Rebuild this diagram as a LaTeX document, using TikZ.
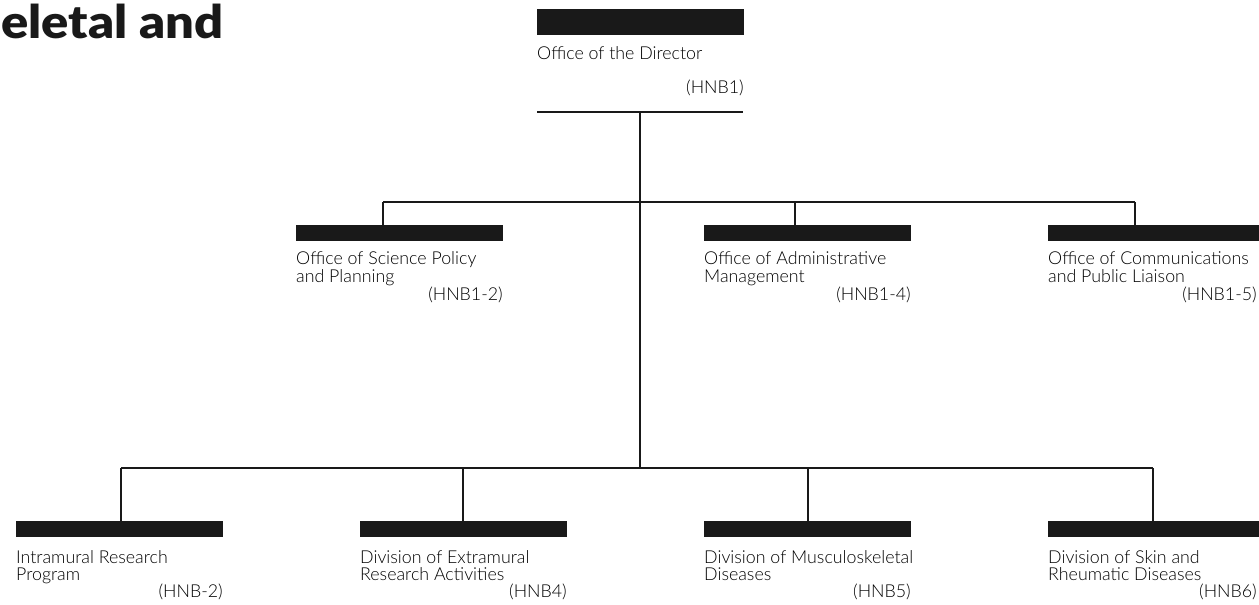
\documentclass[tikz,border=0pt]{standalone}
\usepackage{fontspec}
\newfontfamily\bodyfont{Lato Light}
\newfontfamily\titlefont[FakeStretch=1.1]{Lato Black}
\begin{document}
\begin{tikzpicture}[x=1pt,y=-1pt,
  bar/.style={fill=black!90, draw=none, minimum width=207pt, minimum height=16pt, inner sep=0pt, outer sep=0pt, anchor=north west},
  lbl/.style={font=\bodyfont\fontsize{17.8}{18}\selectfont, text=black, inner sep=0pt, anchor=base west},
  code/.style={font=\bodyfont\fontsize{17.8}{18}\selectfont, text=black, inner sep=0pt, anchor=base east},
  conn/.style={draw=black!90, line width=1.1pt}]
\path[use as bounding box] (0,0) rectangle (1259,605);

% title fragment
\node[font=\titlefont\fontsize{46}{46}\selectfont, text=black!90, inner sep=0pt, anchor=base west] (title) at (1,38) {eletal and};

% director
\node[bar, minimum height=26pt] (dir) at (537,9) {};
\node[lbl] (dirT) at ([yshift=-24pt]dir.south west) {Office of the Director};
\node[code] (dirC) at ([yshift=-58pt]dir.south east) {(HNB1)};
\coordinate (dirL) at (537,112);
\coordinate (dirR) at (743,112);
\coordinate (dirM) at (640,112);

% level 2
\node[bar] (sci) at (296,225) {};
\node[lbl] (sciA) at ([yshift=-23pt]sci.south west) {Office of Science Policy};
\node[lbl] (sciB) at ([yshift=-41pt]sci.south west) {and Planning};
\node[code] (sciC) at ([yshift=-59pt]sci.south east) {(HNB1-2)};

\node[bar] (adm) at (704,225) {};
\node[lbl] (admA) at ([yshift=-23pt]adm.south west) {Office of Administrative};
\node[lbl] (admB) at ([yshift=-41pt]adm.south west) {Management};
\node[code] (admC) at ([yshift=-59pt]adm.south east) {(HNB1-4)};

\node[bar, minimum width=212pt] (com) at (1048,225) {};
\node[lbl] (comA) at ([yshift=-23pt]com.south west) {Office of Communications};
\node[lbl] (comB) at ([yshift=-41pt]com.south west) {and Public Liaison};
\node[code] (comC) at ([xshift=-3pt,yshift=-59pt]com.south east) {(HNB1-5)};

% level 3
\node[bar] (irp) at (16,521) {};
\node[lbl] (irpA) at ([yshift=-26pt]irp.south west) {Intramural Research};
\node[lbl] (irpB) at ([yshift=-43pt]irp.south west) {Program};
\node[code] (irpC) at ([yshift=-60pt]irp.south east) {(HNB-2)};

\node[bar] (era) at (360,521) {};
\node[lbl] (eraA) at ([yshift=-26pt]era.south west) {Division of Extramural};
\node[lbl] (eraB) at ([yshift=-43pt]era.south west) {Research Activities};
\node[code] (eraC) at ([yshift=-60pt]era.south east) {(HNB4)};

\node[bar] (msk) at (704,521) {};
\node[lbl] (mskA) at ([yshift=-26pt]msk.south west) {Division of Musculoskeletal};
\node[lbl] (mskB) at ([yshift=-43pt]msk.south west) {Diseases};
\node[code] (mskC) at ([yshift=-60pt]msk.south east) {(HNB5)};

\node[bar, minimum width=212pt] (skn) at (1048,521) {};
\node[lbl] (sknA) at ([yshift=-26pt]skn.south west) {Division of Skin and};
\node[lbl] (sknB) at ([yshift=-43pt]skn.south west) {Rheumatic Diseases};
\node[code] (sknC) at ([xshift=-3pt,yshift=-60pt]skn.south east) {(HNB6)};

% connectors
\coordinate (h2a) at (383,202);
\coordinate (h2b) at (795,202);
\coordinate (h2c) at (1135,202);
\coordinate (h3a) at (121,468);
\coordinate (h3b) at (463,468);
\coordinate (h3c) at (808,468);
\coordinate (h3d) at (1153,468);
\coordinate (h3m) at (640,468);

\draw[conn] (dirL) -- (dirR);
\draw[conn] (dirM) -- (h3m);
\draw[conn] (h2a) -- (h2c);
\draw[conn] (h2a) -- (h2a |- sci.north);
\draw[conn] (h2b) -- (h2b |- adm.north);
\draw[conn] (h2c) -- (h2c |- com.north);
\draw[conn] (h3a) -- (h3d);
\draw[conn] (h3a) -- (h3a |- irp.north);
\draw[conn] (h3b) -- (h3b |- era.north);
\draw[conn] (h3c) -- (h3c |- msk.north);
\draw[conn] (h3d) -- (h3d |- skn.north);
\end{tikzpicture}
\end{document}
